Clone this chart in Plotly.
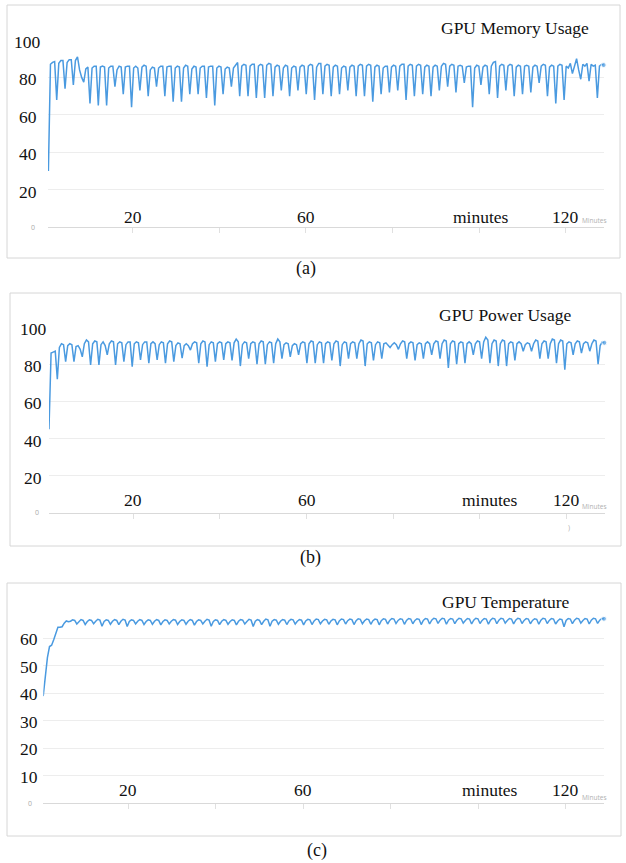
import numpy as np
import plotly.graph_objects as go

W, H = 626, 863
OFF = 0
SERIF = "Liberation Serif, Times New Roman, serif"
LINE = "#4a9ae0"

# ---------------- data ----------------
STEP_MIN = 0.48
T0 = 0.55

memory_usage = [
    30, 87, 88, 88.5, 68, 87.5, 89, 89, 74, 88, 89.5, 89.5, 76, 89, 91, 84, 80, 77.5, 84.5, 85.5, 66,
    85, 86, 86, 65, 85.5, 86, 85.5, 65, 85, 86, 86, 75, 84, 86, 85.5, 71,
    85.5, 86, 86, 64, 85, 86, 85, 73, 85.5, 86.5, 86, 70, 84, 85.5, 85, 75,
    85, 86, 86, 70, 85.5, 86, 86, 67, 85, 86, 85.5, 67, 85, 86.5, 86, 71,
    84.5, 86, 85.5, 71, 85, 86, 86, 69, 85.5, 86, 86, 65, 85, 86, 85.5, 71,
    84.5, 85.5, 85, 75,
    85, 86.5, 88, 70, 86, 87, 86.5, 70, 86, 87, 87, 69, 86, 87, 86.5, 69,
    86.5, 87.5, 87, 70, 85.5, 86.5, 86, 73, 85, 86.5, 86, 70, 85, 86, 85.5, 73,
    85.5, 86.5, 86, 71, 86, 87, 86.5, 68, 85.5, 87.5, 87.5, 71, 86, 87, 86.5, 70,
    85.5, 86.5, 86, 71, 85, 86, 85.5, 73, 85.5, 86.5, 86, 70, 86, 87, 86.5, 70,
    86, 87, 86.5, 67, 85.5, 86.5, 86, 71, 85, 86, 86, 72, 85.5, 86.5, 86, 73,
    86, 87, 87, 68, 86, 87, 86.5, 70,
    86, 87, 86.5, 71, 85.5, 86.5, 86, 70, 85.5, 86.5, 86, 73, 86, 87.5, 87, 75,
    86, 87, 86.5, 72, 86, 86.5, 86, 77, 85.5, 86, 86, 64, 85, 86.5, 86, 76,
    85.5, 86.5, 86, 71, 86, 88, 88.5, 69, 86, 87, 86.5, 73, 86, 87, 86.5, 70,
    85.5, 86.5, 86, 71, 86, 86.5, 86, 72, 85.5, 86.5, 86, 77, 86, 87, 86.5, 70,
    85.5, 86.5, 86, 66, 86, 87, 86.5, 68, 86, 85, 87.5, 82, 86, 90, 84, 79,
    87, 86, 87.5, 78, 87, 86, 86.5, 69,
    86, 87, 86.6,
]

power_usage = [
    45, 86, 86.5, 87, 72,
    89, 91, 90.5, 81.4, 90, 91, 90.5, 81.4, 89.5, 90, 88, 84, 91, 93, 92, 79.6,
    91, 92.5, 92, 79.6, 90.5, 92, 90, 85, 91, 92.5, 92, 79.6, 91, 92, 91.5, 81.4,
    90.5, 92, 92, 78.7, 91, 92, 91.5, 82.3, 90.5, 92, 92, 80.5, 91, 92, 91, 82.3,
    90.5, 92, 91.5, 80.5, 91, 92.5, 92, 81.4, 90, 91.5, 91, 83.2, 90, 91, 90, 87.6,
    91, 92, 91.5, 80.5, 91, 92.5, 92, 78.7, 90.5, 92, 91.5, 81.4, 91, 92, 91.5, 82.3,
    91, 92, 91.5, 82, 91.5, 93.5, 92, 79, 90.5, 92, 91.5, 83, 91, 92, 91.5, 80,
    91, 92.5, 92, 80, 90.5, 92, 91.5, 80.5, 91, 93.5, 92, 83, 90.5, 91.5, 91, 84,
    90, 91, 90.5, 85, 91, 92, 91.5, 80.5, 91, 92.5, 92, 80.5, 90.5, 92, 91.5, 80.5,
    91, 92, 91.5, 82, 91, 92.5, 92, 79, 90.5, 92, 91.5, 83, 91, 92, 91.5, 83,
    91, 93, 92.5, 79, 91, 92, 91.5, 82, 90.5, 92, 91.5, 83, 91, 91.5, 90.5, 89,
    90.5, 91.5, 90.5, 88, 91, 92.5, 92, 83,
    91, 92, 91.5, 82, 90.5, 91.5, 91, 83, 91, 92, 91, 85, 91, 92.5, 92, 83,
    91, 93, 92.5, 78, 91, 92.5, 92, 80, 91, 92, 91.5, 80.5, 91, 92, 91, 85,
    91, 92.5, 92, 83, 92, 94.5, 93, 80.5, 91, 93, 92.5, 79, 91, 93, 92.5, 79,
    91, 92, 91.5, 82, 91, 92, 91, 87, 90.5, 91.5, 91, 87, 91, 93, 92.5, 83,
    91, 92.5, 92, 83, 91, 93.5, 93, 80.5, 91, 93, 92.5, 77, 91, 92, 91.5, 85,
    91, 92.5, 92, 86, 91, 92, 91.5, 87, 91, 93, 92.5, 80,
    90, 92, 91.5,
]

temperature = [
    39, 47, 53, 57, 57.5, 59.5, 62, 64, 64, 64.2, 65.5, 66.3, 66,
    66.2, 66.7, 66.5, 65.2, 66.2, 66.8, 66.5, 65.0, 66.1, 66.7, 66.5, 65.3, 66.2, 66.9, 66.6, 64.4,
    66.1, 66.7, 66.5, 65.1, 66.2, 66.8, 66.5, 65.0, 66.2, 66.9, 66.6, 64.3, 66.1, 66.7, 66.5, 65.2,
    66.2, 66.8, 66.5, 65.0, 66.1, 66.7, 66.5, 65.1, 66.2, 66.8, 66.5, 64.9, 66.1, 66.7, 66.5, 65.2,
    66.2, 66.8, 66.6, 65.0, 66.1, 66.7, 66.5, 65.1, 66.2, 66.8, 66.5, 64.8, 66.1, 66.7, 66.5, 65.2,
    66.2, 66.9, 66.6, 64.4, 66.1, 66.7, 66.5, 65.0, 66.2, 66.8, 66.5, 65.1, 66.1, 66.7, 66.5, 64.9,
    66.2, 66.8, 66.6, 65.2, 66.1, 66.9, 66.6, 64.3, 66.2, 66.8, 66.5, 65.0, 66.2, 67.0, 66.7, 64.4,
    66.2, 66.8, 66.6, 65.1, 66.2, 66.8, 66.6, 65.0, 66.3, 66.9, 66.7, 65.2, 66.2, 66.8, 66.6, 64.9,
    66.3, 66.9, 66.7, 65.0, 66.3, 67.0, 66.8, 65.3, 66.3, 66.9, 66.7, 65.1, 66.3, 66.9, 66.7, 64.9,
    66.3, 67.0, 66.8, 65.2, 66.4, 67.0, 66.8, 65.0, 66.4, 67.1, 66.9, 65.3, 66.4, 67.0, 66.8, 65.1,
    66.4, 67.0, 66.8, 64.9, 66.4, 67.1, 66.9, 65.2, 66.5, 67.2, 67.0, 65.4, 66.5, 67.1, 66.9, 65.1,
    66.5, 67.2, 67.0, 65.3, 66.5, 67.1, 66.9, 65.0, 66.5, 67.2, 67.0, 65.2, 66.6, 67.3, 67.1, 65.4,
    66.6, 67.3, 67.1, 65.1, 66.6, 67.2, 67.0, 65.3, 66.6, 67.3, 67.1, 65.5, 66.5, 67.2, 67.0, 65.2,
    66.6, 67.3, 67.1, 65.4, 66.5, 67.2, 67.0, 65.1, 66.6, 67.3, 67.1, 65.3, 66.6, 67.3, 67.1, 65.5,
    66.5, 67.2, 67.0, 65.2, 66.6, 67.3, 67.1, 65.4, 66.5, 67.2, 67.0, 65.3, 66.5, 67.1, 66.9, 65.1,
    66.6, 67.3, 67.1, 65.4, 66.5, 67.2, 67.0, 65.2, 66.3, 67.0, 66.8, 64.2, 66.5, 67.2, 67.0, 65.3,
    66.6, 67.3, 67.1, 65.5, 66.5, 67.2, 67.0, 65.2, 66.6, 67.3, 67.1, 65.4,
    66.6, 67.2, 67.1,
]

y_ticks_pct = [0, 20, 40, 60, 80, 100]
y_ticks_temp = [0, 10, 20, 30, 40, 50, 60]
x_ticks = [20, 40, 60, 80, 100, 120]
x_labels = ["20", "60", "120"]
x_label_vals = [20, 60, 120]
titles = ["GPU Memory Usage", "GPU Power Usage", "GPU Temperature"]
captions = ["(a)", "(b)", "(c)"]


def fx(p):
    return (p - OFF) / W


def fy(p):
    return 1 - (p - OFF) / H


panels = [
    dict(series=memory_usage, xdom=(48, 604), xr=(0.46, 128.8), ydom=(227, 40), yr=(0, 100),
         yt=y_ticks_pct, ylab_x=27.5, ylab_shift=-2, zero=(33, 227),
         xlab_y=217, minutes_x=481, title_xy=(515, 28), cap_xy=(306, 268),
         box=(7, 5, 620, 258), small_min=(580, 220), gap=True),
    dict(series=power_usage, xdom=(49, 604.5), xr=(0.55, 128.75), ydom=(513, 327), yr=(0, 100),
         yt=y_ticks_pct, ylab_x=33, ylab_shift=-2, zero=(36.5, 512),
         xlab_y=500, minutes_x=490, title_xy=(505, 315), cap_xy=(310, 557),
         box=(10, 293, 621, 546), small_min=(580, 506), gap=True),
    dict(series=temperature, xdom=(43.3, 604.3), xr=(0.57, 128.8), ydom=(803.3, 610.8), yr=(0, 70),
         yt=y_ticks_temp, ylab_x=28.5, ylab_shift=-1, zero=(30, 803),
         xlab_y=790, minutes_x=490, title_xy=(505, 602), cap_xy=(317, 850),
         box=(7, 583, 621, 836), small_min=(580, 797), gap=False),
]

fig = go.Figure()
annotations = []
shapes = []

for k, p in enumerate(panels):
    n = len(p["series"])
    t = T0 + STEP_MIN * np.arange(n)
    xa = "x" if k == 0 else f"x{k+1}"
    ya = "y" if k == 0 else f"y{k+1}"
    sizes = [0] * (n - 1) + [5]
    fig.add_trace(go.Scatter(
        x=t, y=p["series"], xaxis=xa, yaxis=ya, mode="lines+markers",
        line=dict(color=LINE, width=1.5), marker=dict(size=sizes, color=LINE),
        cliponaxis=False, showlegend=False, hoverinfo="skip"))

    xkey = "xaxis" if k == 0 else f"xaxis{k+1}"
    ykey = "yaxis" if k == 0 else f"yaxis{k+1}"
    fig.update_layout(**{
        xkey: dict(domain=[fx(p["xdom"][0]), fx(p["xdom"][1])], range=list(p["xr"]),
                   anchor=ya, showgrid=False, zeroline=False, showline=True,
                   linecolor="#d9d9d9", linewidth=1, tickvals=x_ticks, ticks="outside",
                   ticklen=5, tickcolor="#e0e0e0", tickwidth=1, showticklabels=False),
        ykey: dict(domain=[fy(p["ydom"][0]), fy(p["ydom"][1])], range=list(p["yr"]),
                   anchor=xa, showgrid=True, gridcolor="#ededed", gridwidth=1,
                   zeroline=False, tickvals=p["yt"], showticklabels=False, ticks=""),
    })

    for v in p["yt"]:
        if v == 0:
            continue
        annotations.append(dict(text=str(v), x=fx(p["ylab_x"]), xref="paper", y=v, yref=ya,
                                yshift=p["ylab_shift"], showarrow=False, xanchor="center",
                                yanchor="middle",
                                font=dict(family=SERIF, size=17.5, color="#111111")))
    annotations.append(dict(text="0", x=fx(p["zero"][0]), y=fy(p["zero"][1]), xref="paper",
                            yref="paper", showarrow=False, xanchor="center", yanchor="middle",
                            font=dict(family="Open Sans, sans-serif", size=7, color="#aaaaaa")))
    for lab, v in zip(x_labels, x_label_vals):
        annotations.append(dict(text=lab, x=v, xref=xa, y=fy(p["xlab_y"]), yref="paper",
                                showarrow=False, xanchor="center", yanchor="middle",
                                font=dict(family=SERIF, size=17.5, color="#111111")))
    annotations.append(dict(text="minutes", x=fx(p["minutes_x"]), xref="paper",
                            y=fy(p["xlab_y"]), yref="paper", showarrow=False,
                            xanchor="center", yanchor="middle",
                            font=dict(family=SERIF, size=17.5, color="#111111")))
    annotations.append(dict(text="Minutes", x=fx(p["small_min"][0]), xref="paper",
                            y=fy(p["small_min"][1]), yref="paper", showarrow=False,
                            xanchor="left", yanchor="middle",
                            font=dict(family="Open Sans, sans-serif", size=6.5, color="#b0b0b0")))
    annotations.append(dict(text=titles[k], x=fx(p["title_xy"][0]), xref="paper",
                            y=fy(p["title_xy"][1]), yref="paper", showarrow=False,
                            xanchor="center", yanchor="middle",
                            font=dict(family=SERIF, size=17.5, color="#111111")))
    annotations.append(dict(text=captions[k], x=fx(p["cap_xy"][0]), xref="paper",
                            y=fy(p["cap_xy"][1]), yref="paper", showarrow=False,
                            xanchor="center", yanchor="middle",
                            font=dict(family=SERIF, size=18, color="#111111")))
    x0, y0, x1, y1 = p["box"]
    shapes.append(dict(type="rect", xref="paper", yref="paper", x0=fx(x0), x1=fx(x1),
                       y0=fy(y1), y1=fy(y0), line=dict(color="#d6d6d6", width=1),
                       fillcolor="rgba(0,0,0,0)", layer="below"))
    if p["gap"]:
        gy = p["ydom"][1]
        shapes.append(dict(type="rect", xref="paper", yref="paper", x0=fx(262), x1=fx(370),
                           y0=fy(gy + 3), y1=fy(gy - 3), line=dict(width=0),
                           fillcolor="white", layer="above"))

annotations.append(dict(text=")", x=fx(572), y=fy(527), xref="paper", yref="paper",
                        showarrow=False, font=dict(family="Open Sans, sans-serif", size=7,
                                                   color="#b0b0b0")))

fig.update_layout(width=W, height=H, margin=dict(l=0, r=0, t=0, b=0, pad=0),
                  paper_bgcolor="white", plot_bgcolor="white",
                  annotations=annotations, shapes=shapes, showlegend=False)

fig.write_html("out.html", config={"displayModeBar": False, "staticPlot": True},
               post_script="document.body.style.margin='0';document.body.style.overflow='hidden';")
